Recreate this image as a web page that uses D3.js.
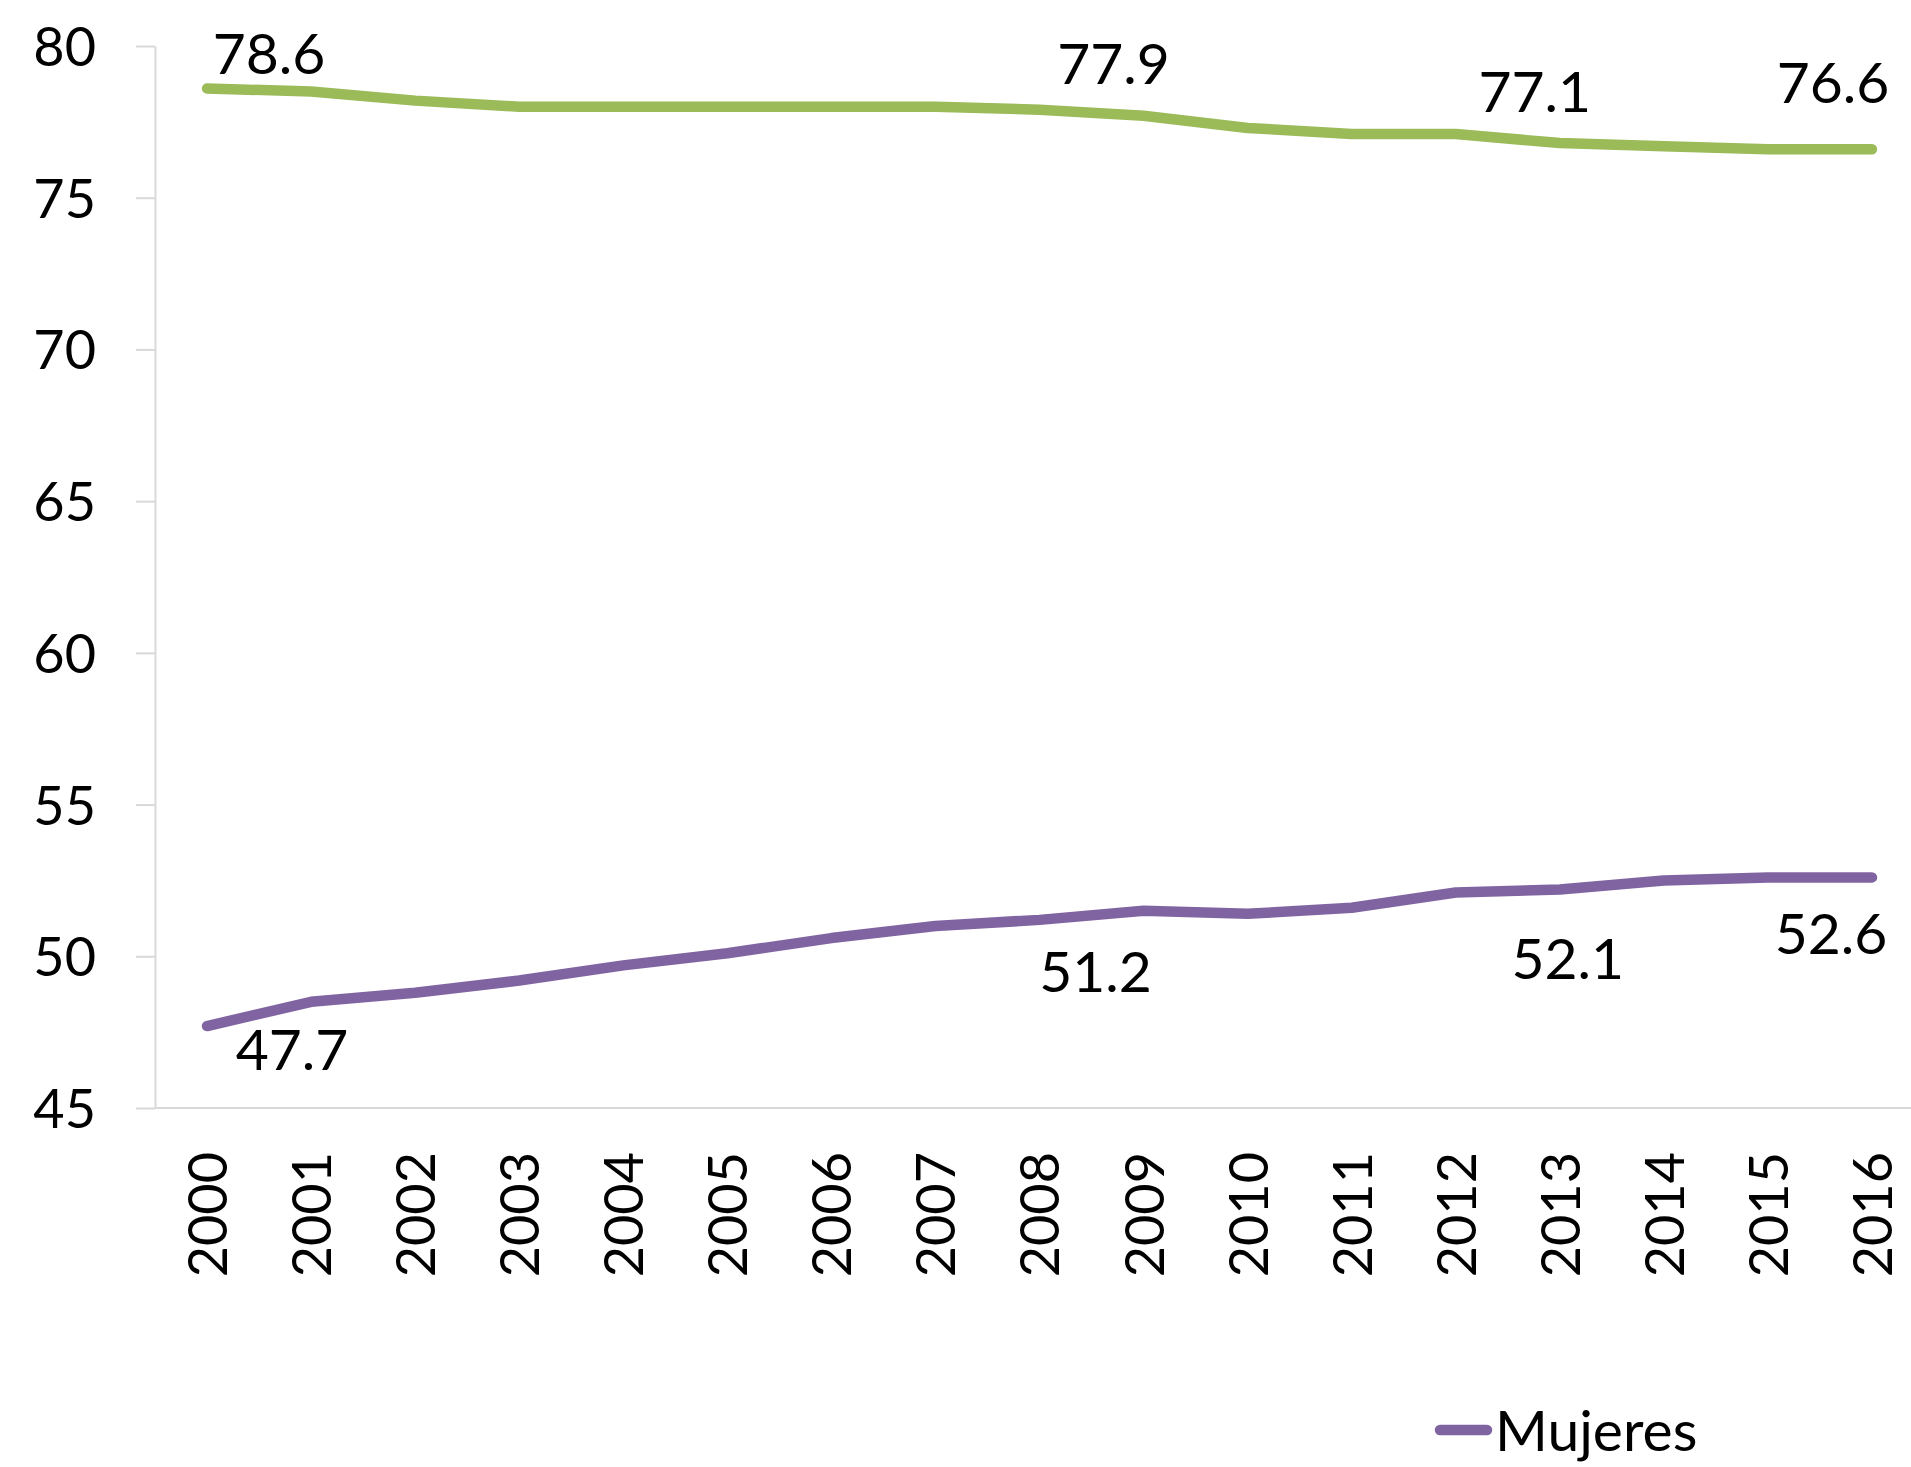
<!DOCTYPE html>
<html>
<head>
<meta charset="utf-8">
<title>Tasa de participación</title>
<script src="https://cdn.jsdelivr.net/npm/d3@7"></script>
<style>
  body { margin: 0; background: #fff; }
  text { font-family: Lato, "Open Sans", sans-serif; fill: #000; }
  .axis path, .axis line { stroke: #d9d9d9; stroke-width: 2px; }
  .serie { fill: none; stroke-width: 10.5px; stroke-linecap: round; stroke-linejoin: round; }
</style>
</head>
<body>
<div id="chart"></div>
<script>
var years = [2000, 2001, 2002, 2003, 2004, 2005, 2006, 2007, 2008,
             2009, 2010, 2011, 2012, 2013, 2014, 2015, 2016];
var hombres = [78.6, 78.5, 78.2, 78.0, 78.0, 78.0, 78.0, 78.0, 77.9,
               77.7, 77.3, 77.1, 77.1, 76.8, 76.7, 76.6, 76.6];
var mujeres = [47.7, 48.5, 48.8, 49.2, 49.7, 50.1, 50.6, 51.0, 51.2,
               51.5, 51.4, 51.6, 52.1, 52.2, 52.5, 52.6, 52.6];
var yTicks = [45, 50, 55, 60, 65, 70, 75, 80];
// years that carry a data label
var labelYears = [2000, 2008, 2012, 2016];
// offsets of the labels (moved by hand in the original)
var offHombres = [[62, -35], [74, -46], [79, -43], [-39, -67]];
var offMujeres = [[85, 23], [56, 52], [112, 66], [-41, 56]];

var width = 1911, height = 1467;
var fontSize = 54, labelSize = 57;

var svg = d3.select("#chart").append("svg")
    .attr("width", width)
    .attr("height", height);

var x = d3.scalePoint()
    .domain(years)
    .range([155, 155 + 17 * 104.06])
    .padding(0.5);

var y = d3.scaleLinear()
    .domain([45, 80])
    .range([1108, 46]);

// eje y
var yAxis = svg.append("g")
    .attr("class", "axis")
    .attr("transform", "translate(155,0)")
    .call(d3.axisLeft(y).tickValues(yTicks).tickSize(19).tickPadding(40).tickSizeOuter(0));
yAxis.selectAll("text")
    .style("font-size", fontSize + "px")
    .attr("dy", "0.36em");

// eje x
var xAxis = svg.append("g")
    .attr("class", "axis")
    .attr("transform", "translate(0,1108)")
    .call(d3.axisBottom(x).tickSize(0).tickSizeOuter(0).tickPadding(0));
xAxis.select(".domain").attr("d", "M155,0H" + width);
xAxis.selectAll("text")
    .style("font-size", fontSize + "px")
    .attr("text-anchor", "end")
    .attr("transform", "translate(0,44) rotate(-90)")
    .attr("x", 0)
    .attr("y", 0)
    .attr("dy", "0.36em");

var line = d3.line()
    .x(function(d, i) { return x(years[i]); })
    .y(function(d) { return y(d); });

var series = [
  { name: "Hombres", values: hombres, color: "#9bbb59", off: offHombres },
  { name: "Mujeres", values: mujeres, color: "#8064a2", off: offMujeres }
];

series.forEach(function(s) {
  svg.append("path")
    .datum(s.values)
    .attr("class", "serie")
    .attr("stroke", s.color)
    .attr("d", line);

  svg.selectAll(".lab-" + s.name)
    .data(labelYears)
    .enter().append("text")
    .attr("class", "lab-" + s.name)
    .attr("x", function(d, i) { return x(d) + s.off[i][0]; })
    .attr("y", function(d, i) { return y(s.values[years.indexOf(d)]) + s.off[i][1]; })
    .attr("dy", "0.36em")
    .attr("text-anchor", "middle")
    .style("font-size", labelSize + "px")
    .text(function(d) { return s.values[years.indexOf(d)].toFixed(1); });
});

// leyenda
var legend = svg.append("g").attr("transform", "translate(1440,1430)");
legend.append("line")
    .attr("x1", 0).attr("x2", 47)
    .attr("stroke", "#8064a2")
    .attr("stroke-width", 10.5)
    .attr("stroke-linecap", "round");
legend.append("text")
    .attr("x", 55)
    .attr("dy", "0.36em")
    .style("font-size", labelSize + "px")
    .text("Mujeres");
</script>
</body>
</html>
